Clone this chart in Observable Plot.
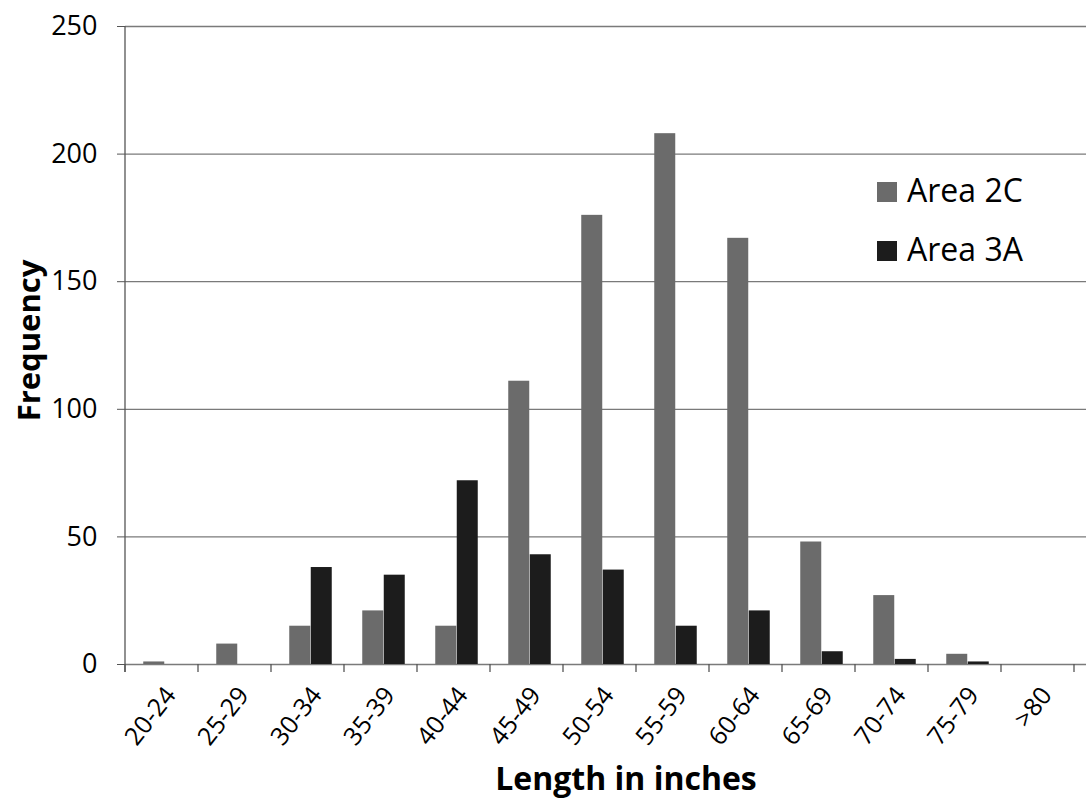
<!DOCTYPE html>
<html>
<head>
<meta charset="utf-8">
<script src="https://cdn.jsdelivr.net/npm/d3@7"></script>
<script src="https://cdn.jsdelivr.net/npm/@observablehq/plot@0.6"></script>
<style>
  html, body { margin: 0; padding: 0; background: #fff; }
  #wrap { position: relative; width: 1086px; height: 799px; font-family: 'Open Sans', sans-serif; }
  #legend { position: absolute; left: 877px; top: 160px; font-size: 32px; color: #000; }
  #legend .row { display: flex; align-items: center; height: 59px; }
  #legend .sw { width: 20px; height: 20px; margin-right: 10px; margin-top: 4px; }
</style>
</head>
<body>
<div id="wrap"></div>
<script>
const categories = ["20-24","25-29","30-34","35-39","40-44","45-49","50-54","55-59","60-64","65-69","70-74","75-79",">80"];
const area2C = [1, 8, 15, 21, 15, 111, 176, 208, 167, 48, 27, 4, 0];
const area3A = [0, 0, 38, 35, 72, 43, 37, 15, 21, 5, 2, 1, 0];
const yTicks = [0, 50, 100, 150, 200, 250];
const seriesNames = ["Area 2C", "Area 3A"];
const seriesColors = ["#6b6b6b", "#1c1c1c"];

const rows2C = categories.map((c, i) => ({cat: c, v: area2C[i]}));
const rows3A = categories.map((c, i) => ({cat: c, v: area3A[i]}));

function axisFrame(index, scales, values, dims) {
  const g = d3.create("svg:g").attr("stroke", "#555").attr("stroke-width", 1.3);
  const left = dims.marginLeft;
  const step = scales.x(categories[1]) - scales.x(categories[0]);
  const y0 = scales.y(0);
  g.append("line").attr("x1", left).attr("x2", left).attr("y1", scales.y(yTicks[yTicks.length - 1])).attr("y2", y0 + 8);
  for (let k = 0; k <= categories.length; k++) {
    const xx = left + k * step;
    g.append("line").attr("x1", xx).attr("x2", xx).attr("y1", y0).attr("y2", y0 + 8);
  }
  return g.node();
}

const chart = Plot.plot({
  width: 1086,
  height: 799,
  marginLeft: 125,
  marginRight: 0,
  marginTop: 26,
  marginBottom: 135,
  style: {fontFamily: "'Open Sans', sans-serif", color: "#000", background: "#fff", overflow: "visible"},
  x: {domain: categories, range: [125, 1081], paddingInner: 0.708, paddingOuter: 0.354, axis: null},
  y: {domain: [0, 250]},
  marks: [
    Plot.gridY(yTicks, {stroke: "#7a7a7a", strokeOpacity: 1, strokeWidth: 1.3}),
    Plot.barY(rows2C, {x: "cat", y: "v", fill: seriesColors[0], dx: -10.75}),
    Plot.barY(rows3A, {x: "cat", y: "v", fill: seriesColors[1], dx: 10.75}),
    Plot.axisY(yTicks, {tickSize: 8, tickPadding: 20, fontSize: 27, label: null, stroke: "#555"}),
    Plot.text(categories, {x: d => d, frameAnchor: "bottom", textAnchor: "end", rotate: -52, dx: 12, dy: 31, fontSize: 25, fontWeight: 500}),
    axisFrame,
    Plot.text(["Frequency"], {frameAnchor: "left", textAnchor: "middle", rotate: -90, dx: -95, dy: -5, fontSize: 31, fontWeight: "bold"}),
    Plot.text(["Length in inches"], {x: () => categories[6], frameAnchor: "bottom", dy: 125, dx: 23, fontSize: 32, fontWeight: "bold"})
  ]
});

const wrap = document.getElementById("wrap");
wrap.appendChild(chart);
const legend = document.createElement("div");
legend.id = "legend";
seriesNames.forEach((name, i) => {
  const row = document.createElement("div");
  row.className = "row";
  const sw = document.createElement("div");
  sw.className = "sw";
  sw.style.background = seriesColors[i];
  const tx = document.createElement("span");
  tx.textContent = name;
  row.appendChild(sw);
  row.appendChild(tx);
  legend.appendChild(row);
});
wrap.appendChild(legend);
</script>
</body>
</html>
